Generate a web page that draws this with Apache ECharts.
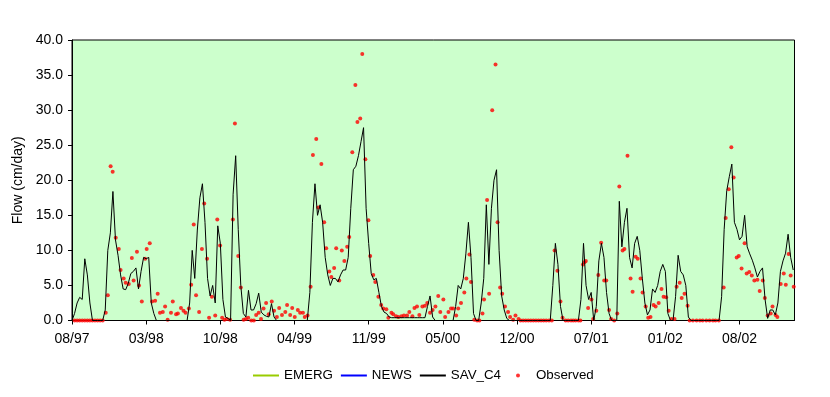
<!DOCTYPE html>
<html>
<head>
<meta charset="utf-8">
<script src="https://cdn.jsdelivr.net/npm/echarts@6/dist/echarts.min.js"></script>
<style>html,body{margin:0;padding:0;background:#fff;}#c{width:830px;height:397px;}</style>
</head>
<body>
<div id="c"></div>
<script>
// x axis: weeks since 08/1997 (one step = 1 week), labels every 29 weeks
var tickLabels = ['08/97','03/98','10/98','04/99','11/99','05/00','12/00','07/01','01/02','08/02'];
var tickStep = 29;
var weekMax = 282.5;

// simulated flow, SAV_C4 (weekly, cm/day)
var savC4 = [
0,1.0,2.5,3.3,3.0,8.8,6.5,2.5,0,0,
0,0,0,1.5,10,12.5,18.4,11.5,9.3,6.5,
4.5,4.4,5.3,6.7,7.0,7.5,4.5,7.0,9.0,8.8,
9.0,2.5,1.0,0,0,0,0,0,0,0,
0,0,0,0,0,0,2.5,10,6,12.9,
17.5,19.5,14,6,3.5,5,2.5,13.5,11,3,
0.5,0.3,0,18,23.5,13,5,1,0.5,4.3,
1.5,1.5,2.4,3.9,1.2,0.8,0.6,0.5,2.4,0.5,
0,0,0,0,0,0,0,0,0,0,
0,0,0,4,14,19.5,15,16.5,14,9,
6.5,5,6,6,5.5,6.5,7.2,7.2,9,16,
21.5,22,23.5,25.5,27.5,16,11,6.7,5.8,6,
4,2,1.2,1,0.5,0.4,0.4,0.4,0.4,0.4,
0.4,0.4,0.4,0.4,0.4,0.4,0.4,0.4,0.4,2,
3.5,0.5,0,0,0,0,0,0,0,0,
2,5,4.5,6,9.5,14,9,1,0,0,
2.5,6,16.5,8,16,20,21.5,10,3.5,1.5,
0.3,0,0,0,0,0,0,0,0,0,
0,0,0,0,0,0,0,0,5,11,
8,2,0,0,0,0,0,0,0,3,
11,5,3,4,0,2,8.5,11,9,4,
1,0,0,0,17,10.5,14,16,9,7.5,
11,12,10,6,2.5,0.8,1.5,4.5,4,5,
7,8,7,1,0,0,3.4,9.3,7,6.5,
5,0.5,0,0,0,0,0,0,0,0,
0,0,0,0,3.4,13,18.5,20.5,22.3,14,
13,11.5,12,15,10.5,9.5,8.6,7.5,6.2,7,
7.5,3,0.3,1.5,1.5,0.8,2.5,7,8.5,9.6,
12.3,9,7.2
];
// EMERG and NEWS: not visible in the plot (legend only)
var emerg = [];
var news = [];

// observed flow: week of observation and value
var obsWeek = [
1,2,3,4,5,6,7,8,9,10,11,12,
13.2,14.0,15.1,15.9,17.1,18.3,19.0,20.2,21.0,22.2,
23.4,24.1,25.4,26.2,27.3,28.6,29.2,30.4,31.3,32.5,
33.5,34.4,35.5,36.4,37.4,38.7,39.4,40.7,41.4,42.6,
43.6,44.4,45.7,46.6,47.6,48.5,49.7,50.8,51.7,52.8,
53.6,54.7,56.0,56.8,57.9,58.7,59.6,60.5,61.8,62.9,
63.7,65.0,66.0,67.1,68.0,68.9,70.1,71.1,72.0,73.0,
73.9,74.9,75.9,76.9,78.1,79.0,80.1,81.0,82.1,83.4,
84.1,85.3,86.1,87.1,88.3,89.2,90.3,91.0,92.1,93.3,
94.2,95.5,96.3,97.5,98.6,99.4,100.6,101.4,102.5,103.3,
104.5,105.5,106.5,107.6,108.4,109.6,110.8,111.6,112.7,113.5,
114.7,115.9,116.6,117.8,118.6,119.8,120.9,121.7,122.9,123.7,
124.9,125.6,126.7,127.6,128.8,129.8,131.0,131.9,133.1,133.9,
134.9,135.8,137.0,138.0,138.9,140.0,141.0,142.1,143.2,144.0,
145.2,145.9,147.2,148.2,149.0,150.2,151.0,152.1,153.4,154.2,
155.4,156.0,157.3,158.4,159.3,160.5,161.1,162.3,163.1,164.3,
165.6,166.4,167.4,168.2,169.3,170.5,171.3,172.5,173.4,174.6,
175.4,176.4,177.4,178.4,179.4,180.4,181.4,182.4,183.4,184.4,185.4,186.5,187.6,
188.7,189.8,191.0,191.8,
193.0,194.0,195.1,196.0,196.9,198.0,198.8,
199.8,200.4,200.9,201.8,203.1,203.8,205.0,205.8,206.9,208.1,
208.9,210.0,210.8,212.0,213.2,214.0,215.3,216.0,217.2,218.4,
219.2,220.4,221.2,222.3,223.1,224.3,225.3,226.2,227.4,228.2,
229.4,230.5,231.3,232.3,233.3,234.4,235.6,236.4,237.6,238.4,
239.5,240.7,
241.5,242.8,244.2,245.5,246.6,248.0,249.3,250.6,251.6,252.9,
254.8,255.6,256.8,257.8,258.7,259.9,260.7,261.8,263.0,263.8,
264.8,265.8,266.8,268.0,268.9,270.1,270.9,272.0,273.2,273.9,
275.1,275.8,277.1,278.3,279.1,280.2,281.0,282.2
];
var obsFlow = [
0,0,0,0,0,0,0,0,0,0,0,0,
1.1,3.6,22.0,21.2,11.8,10.2,7.2,6.0,5.4,5.2,
8.9,5.7,9.8,5.0,2.7,8.8,10.2,11.0,2.7,2.8,
3.8,1.1,1.2,2.0,0.1,1.1,2.7,0.9,1.0,1.8,
1.4,1.1,1.7,5.1,13.7,3.6,1.2,10.2,16.7,8.8,
0.4,3.4,0.7,14.4,10.7,0.4,0.1,0.2,0.1,14.4,
28.1,9.2,4.7,0.1,0.2,0.4,0,0,0.8,1.1,
0.2,1.7,2.5,0.9,2.7,1.4,0.5,1.8,0.8,1.2,
2.2,0.8,1.8,0.5,1.5,1.1,1.1,0.5,0.7,4.8,
23.6,25.9,16.1,22.3,14.0,10.3,7.0,6.2,7.5,10.3,
5.7,10.0,8.5,10.5,11.9,24.0,33.6,28.3,28.8,38.0,
23.0,14.3,9.2,6.5,5.5,3.4,2.2,1.7,1.6,0.4,
1.1,0.9,0.6,0.5,0.6,0.7,0.7,1.2,0.6,1.8,
2.0,0.8,2.0,2.1,2.5,1.1,1.5,2.0,3.5,1.2,
3.0,0.5,1.2,1.7,1.7,0.7,1.7,2.5,4.0,6.0,
9.4,5.5,0.1,0,0,1.0,3.0,17.2,3.8,30.0,
36.5,14.0,4.7,3.8,2.0,1.2,0.5,0.1,0.7,0.2,
0,0,0,0,0,0,0,0,0,0,0,0,0,
10.0,7.1,2.7,0.4,
0,0,0,0,0,0,0,
8.0,8.3,8.5,1.8,3.0,0.2,1.4,6.5,11.1,5.7,
5.7,1.5,0.2,0,1.0,19.1,10.0,10.2,23.5,6.0,
4.1,9.1,8.8,6.0,4.0,2.0,0.4,0.5,2.2,2.0,
2.5,4.5,3.4,3.3,1.4,0.2,0.2,4.8,5.4,3.2,
3.8,2.1,
0,0,0,0,0,0,0,0,0,0,
4.7,14.6,18.7,24.7,20.4,9.0,9.2,7.4,11.0,6.7,
6.9,6.4,5.7,5.8,4.2,5.7,3.2,0.7,1.0,2.0,
0.8,0.5,5.2,6.7,5.1,9.5,6.4,4.8
];

var tickWeeks = tickLabels.map(function(_, i){ return i * tickStep; });
var FONT = 'Liberation Sans, Arial, sans-serif';
var NOFILL = {color: 'rgba(0,0,0,0)', borderColor: 'rgba(0,0,0,0)', borderWidth: 0};
var LEG_TEXT = {fontFamily: FONT, fontSize: 13.33, color: '#000'};
var chart = echarts.init(document.getElementById('c'), null, {renderer:'canvas'});
chart.setOption({
  animation: false,
  backgroundColor: '#ffffff',
  grid: {left: 72, top: 40, right: 35.5, bottom: 76.5, show: true,
         backgroundColor: '#ccffcc', borderColor: '#000', borderWidth: 1},
  legend: [
    {
      left: 252, top: 369, padding: 0, itemWidth: 26, itemHeight: 4, itemGap: 7,
      textStyle: LEG_TEXT,
      data: [
        {name:'EMERG', itemStyle: NOFILL},
        {name:'NEWS', itemStyle: NOFILL},
        {name:'SAV_C4', itemStyle: NOFILL}
      ]
    },
    {
      left: 516, top: 369, padding: 0, itemWidth: 26, itemHeight: 4,
      textStyle: LEG_TEXT,
      data: [{name:'Observed', icon:'circle'}]
    }
  ],
  xAxis: {
    type: 'value', min: 0, max: weekMax, interval: tickStep,
    axisLine: {lineStyle: {color: '#000', width: 1}},
    axisTick: {show: true, length: 4, lineStyle: {color: '#000'}, customValues: tickWeeks},
    axisLabel: {fontFamily: FONT, fontSize: 14, color: '#000', margin: 12, customValues: tickWeeks,
      formatter: function(v){ var i = Math.round(v / tickStep); return (Math.abs(v - i*tickStep) < 1e-6 && tickLabels[i]) ? tickLabels[i] : ''; }},
    splitLine: {show: false}
  },
  yAxis: {
    type: 'value', min: 0, max: 40, interval: 5,
    name: 'Flow (cm/day)', nameLocation: 'middle', nameGap: 39,
    nameTextStyle: {fontFamily: FONT, fontSize: 14, color: '#000'},
    axisLine: {show: true, lineStyle: {color: '#000', width: 1}},
    axisTick: {show: true, length: 4, lineStyle: {color: '#000'}},
    axisLabel: {fontFamily: FONT, fontSize: 14, color: '#000', margin: 9,
      formatter: function(v){ return v.toFixed(1); }},
    splitLine: {show: false}
  },
  series: [
    {name: 'EMERG', type: 'line', data: emerg, symbol: 'none', color: '#99cc00', lineStyle: {width: 1, color: '#99cc00'}},
    {name: 'NEWS', type: 'line', data: news, symbol: 'none', color: '#0000ff', lineStyle: {width: 1, color: '#0000ff'}},
    {name: 'SAV_C4', type: 'line', symbol: 'none', color: '#000000',
     lineStyle: {width: 1, color: '#000000'},
     data: savC4.map(function(v, i){ return [i, v]; })},
    {name: 'Observed', type: 'scatter', symbol: 'circle', symbolSize: 4, color: '#ff0000',
     itemStyle: {color: '#ff0000'},
     data: obsWeek.map(function(w, i){ return [w, obsFlow[i]]; })}
  ]
});
</script>
</body>
</html>
